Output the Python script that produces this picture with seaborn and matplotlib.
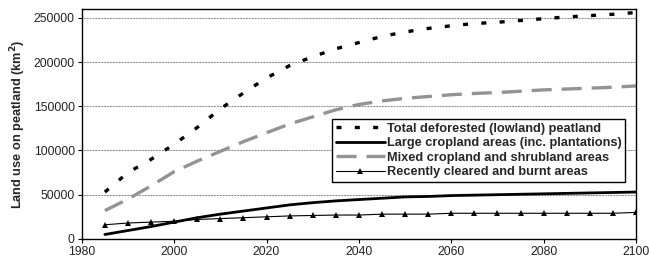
import matplotlib
matplotlib.use('Agg')
import matplotlib.pyplot as plt
import seaborn as sns
import numpy as np
import pandas as pd

years = list(range(1985, 2101, 5))

total_deforested = [53000, 75000, 90000, 107000, 126000, 147000, 165000, 182000,
                    196000, 206000, 215000, 222000, 229000, 234000, 238000, 241000,
                    243500, 245000, 247000, 249000, 251000, 252500, 254000, 256000]
large_cropland = [5000, 9500, 14000, 19000, 24000, 28000, 31500, 35000,
                  38500, 41000, 43000, 44500, 46000, 47500, 48000, 49000,
                  49500, 50000, 50500, 51000, 51500, 52000, 52500, 53000]
mixed_cropland = [32000, 45000, 60000, 76000, 88000, 99000, 110000, 120000,
                  130000, 138000, 146000, 152000, 156000, 159000, 161000, 163000,
                  164500, 165500, 167000, 168500, 169500, 170500, 171500, 173000]
recent_cleared = [16000, 18000, 19000, 20000, 22000, 23000, 24000, 25000,
                  26000, 26500, 27000, 27000, 28000, 28000, 28000, 29000,
                  29000, 29000, 29000, 29000, 29000, 29000, 29000, 30000]

labels = ['Total deforested (lowland) peatland',
          'Large cropland areas (inc. plantations)',
          'Mixed cropland and shrubland areas',
          'Recently cleared and burnt areas']

sns.set_style('white')
plt.rcParams['font.family'] = ['Liberation Sans', 'DejaVu Sans']

fig, ax = plt.subplots(figsize=(6.49, 2.64), dpi=100)
fig.subplots_adjust(left=0.126, right=0.980, bottom=0.095, top=0.966)

sns.lineplot(x=years, y=total_deforested, ax=ax, color='black', lw=2.4, label=labels[0])
ax.lines[-1].set_dashes([1.5, 4.0])
sns.lineplot(x=years, y=large_cropland, ax=ax, color='black', lw=2.0, label=labels[1])
sns.lineplot(x=years, y=mixed_cropland, ax=ax, color='#939393', lw=2.4, label=labels[2])
ax.lines[-1].set_dashes([6, 3])
sns.lineplot(x=years, y=recent_cleared, ax=ax, color='black', lw=0.8,
             marker='^', markersize=5, markeredgewidth=0, label=labels[3])

ax.set_xlim(1980, 2100)
ax.set_ylim(0, 260000)
ax.set_xticks(range(1980, 2101, 20))
ax.set_yticks(range(0, 250001, 50000))
ax.yaxis.grid(True, color='black', linestyle=(0, (1, 1.2)), linewidth=0.5)
ax.xaxis.grid(False)
for s in ax.spines.values():
    s.set_color('black')
    s.set_linewidth(1.0)
ax.tick_params(axis='both', which='major', direction='out', length=3, width=0.8,
               labelsize=8.8, color='black', labelcolor='#222222',
               bottom=True, left=True, pad=2)
ax.set_ylabel('Land use on peatland (km$^\\mathbf{2}$)', fontsize=9.2,
              fontweight='bold', labelpad=4)

leg = ax.legend(loc='upper left', bbox_to_anchor=(0.451, 0.522), frameon=True,
                fancybox=False, framealpha=1, edgecolor='black', handlelength=3.9,
                handletextpad=0.1, borderpad=0.3, labelspacing=0.2,
                borderaxespad=0, prop={'weight': 'bold', 'size': 9.2})
leg.get_frame().set_linewidth(1.0)

fig.savefig('out.png', dpi=100)
